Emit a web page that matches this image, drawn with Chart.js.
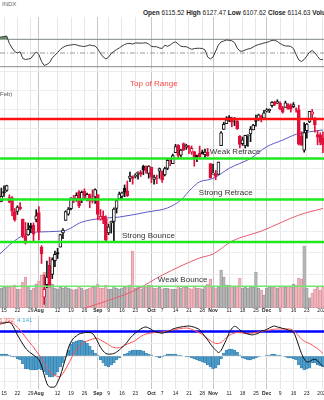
<!DOCTYPE html>
<html>
<head>
<meta charset="utf-8">
<script src="https://cdn.jsdelivr.net/npm/chart.js@4.4.1/dist/chart.umd.min.js"></script>
<style>
  body { margin: 0; width: 324px; height: 400px; overflow: hidden; position: relative; background: #fff;
         font-family: "Liberation Sans", Arial, sans-serif; }
  .pane { position: absolute; left: 0; }
  .txt { position: absolute; white-space: nowrap; }
</style>
</head>
<body>
<div class="txt" style="left:2px;top:1px;font-size:6px;color:#666">INDX</div>
<div class="txt" style="left:143px;top:9px;font-size:6.5px;color:#222"><b>Open</b> 6115.52 <b>High</b> 6127.47 <b>Low</b> 6107.62 <b>Close</b> 6114.63 <b>Volume</b> 4.3B</div>
<canvas class="pane" id="rsiChart" width="324" height="52" style="top:17px"></canvas>
<canvas class="pane" id="priceChart" width="324" height="247" style="top:70px"></canvas>
<canvas class="pane" id="macdChart" width="324" height="84" style="top:316px"></canvas>
<div class="txt" style="left:-1px;top:317px;font-size:6px"><span style="color:#ff5a5a">5.392,</span> <span style="color:#4aaee0">4.141</span></div>

<script>
// trading days: 0 = Jul 11 2024 ... 121 = Jan 2 2025
const tickDays = [2, 7, 12, 15, 22, 27, 32, 37, 41, 46, 51, 57, 61, 66, 71, 76, 80, 86, 91, 96, 100, 105, 110, 115, 121];
const tickLabels = ['15', '22', '29', 'Aug', '12', '19', '26', 'Sep', '9', '16', '23', 'Oct', '7', '14', '21', '28',
                    'Nov', '11', '18', '25', 'Dec', '9', '16', '23', '2025'];

const priorClose = 5633.91;
const open = [
  5635.21, 5590.76, 5638.16, 5644.09, 5610.07, 5608.56, 5543.37, 5544.04, 5565.30, 5505.84,
  5428.70, 5433.67, 5476.55, 5478.73, 5505.59, 5537.84, 5376.63, 5151.14, 5206.42, 5293.13,
  5252.57, 5314.70, 5351.88, 5376.98, 5442.73, 5501.13, 5530.50, 5557.23, 5602.88, 5603.09,
  5637.77, 5602.42, 5639.66, 5602.89, 5624.51, 5607.30, 5612.74, 5623.89, 5506.68, 5520.08,
  5507.33, 5442.07, 5490.51, 5496.42, 5557.48, 5603.34, 5615.21, 5655.51, 5641.68, 5702.63,
  5709.81, 5711.90, 5726.52, 5733.65, 5762.22, 5755.36, 5726.52, 5757.73, 5698.19, 5698.88,
  5737.80, 5737.80, 5719.14, 5751.80, 5778.36, 5775.09, 5829.81, 5866.74, 5816.58, 5875.62,
  5859.43, 5857.82, 5832.70, 5834.50, 5816.24, 5826.75, 5833.93, 5819.68, 5832.65, 5775.34,
  5723.22, 5725.15, 5722.43, 5864.89, 5947.21, 5976.76, 6008.86, 6003.60, 5985.75, 5989.68,
  5912.79, 5874.17, 5863.04, 5914.56, 5924.37, 5944.36, 5992.28, 6000.03, 6014.11, 6003.98,
  6040.11, 6042.97, 6069.39, 6089.03, 6081.38, 6083.01, 6057.59, 6060.15, 6074.29, 6068.17,
  6063.79, 6052.55, 6047.65, 5912.71, 5842.00, 5940.25, 5984.63, 6024.97, 6006.17, 5920.67,
  5919.74, 5903.26
];
const high = [
  5642.45, 5655.56, 5666.94, 5669.67, 5622.49, 5614.05, 5557.50, 5570.36, 5585.34, 5508.04,
  5491.59, 5488.32, 5487.74, 5489.46, 5551.51, 5566.16, 5383.89, 5250.89, 5312.34, 5330.64,
  5328.03, 5358.66, 5371.20, 5436.50, 5463.22, 5546.23, 5561.98, 5608.30, 5620.51, 5632.68,
  5643.22, 5641.82, 5651.62, 5631.18, 5627.03, 5646.95, 5651.37, 5623.89, 5552.74, 5546.30,
  5522.47, 5484.20, 5497.91, 5560.41, 5600.71, 5636.27, 5636.05, 5670.81, 5689.75, 5733.57,
  5715.14, 5725.36, 5735.32, 5741.03, 5767.37, 5763.78, 5765.14, 5757.73, 5719.14, 5718.78,
  5753.64, 5739.34, 5757.60, 5796.80, 5795.03, 5822.13, 5871.41, 5870.36, 5846.52, 5878.46,
  5872.17, 5866.92, 5863.04, 5834.85, 5817.80, 5862.82, 5842.92, 5847.19, 5850.94, 5775.34,
  5772.52, 5741.43, 5783.44, 5936.14, 5983.84, 6012.45, 6017.31, 6009.92, 6008.19, 5993.88,
  5915.06, 5908.12, 5917.50, 5920.67, 5961.50, 5972.90, 6020.75, 6025.42, 6020.16, 6044.17,
  6053.58, 6052.07, 6089.84, 6092.27, 6099.97, 6088.51, 6065.40, 6092.59, 6079.68, 6078.58,
  6085.19, 6057.68, 6070.67, 5935.52, 5982.06, 5978.25, 6040.10, 6049.75, 6006.17, 5940.79,
  5929.74, 5935.09
];
const low = [
  5571.38, 5590.44, 5614.75, 5639.02, 5584.81, 5522.81, 5497.04, 5529.04, 5550.90, 5419.98,
  5390.95, 5430.70, 5444.44, 5398.86, 5493.75, 5410.42, 5302.03, 5119.26, 5193.56, 5195.54,
  5233.85, 5287.46, 5324.37, 5376.98, 5415.68, 5501.13, 5525.17, 5550.74, 5585.50, 5591.57,
  5560.95, 5585.16, 5602.34, 5593.48, 5560.95, 5583.71, 5581.79, 5504.33, 5501.67, 5485.70,
  5402.62, 5434.49, 5441.72, 5406.96, 5535.50, 5601.65, 5604.53, 5614.05, 5615.08, 5686.42,
  5674.49, 5704.94, 5698.99, 5712.06, 5721.01, 5727.34, 5703.53, 5681.28, 5674.00, 5677.04,
  5702.83, 5683.56, 5714.56, 5745.02, 5764.76, 5775.09, 5829.81, 5804.48, 5808.34, 5840.25,
  5846.11, 5824.82, 5821.17, 5762.41, 5784.92, 5799.98, 5823.08, 5802.17, 5811.28, 5703.78,
  5723.22, 5696.51, 5722.10, 5864.89, 5947.21, 5976.76, 5986.69, 5960.08, 5965.91, 5946.99,
  5853.01, 5865.95, 5853.02, 5860.58, 5884.77, 5944.36, 5963.91, 5992.27, 5984.87, 6003.98,
  6035.33, 6033.39, 6061.06, 6069.00, 6079.98, 6048.63, 6029.89, 6060.15, 6051.25, 6035.77,
  6059.14, 6035.19, 5867.79, 5866.07, 5832.30, 5902.57, 5981.44, 6007.37, 5932.95, 5869.16,
  5868.86, 5829.53
];
const close = [
  5584.54, 5615.35, 5631.22, 5667.20, 5588.27, 5544.59, 5505.00, 5564.41, 5555.74, 5427.13,
  5399.22, 5459.10, 5463.54, 5436.44, 5522.30, 5446.68, 5346.56, 5186.33, 5240.03, 5199.50,
  5319.31, 5344.16, 5344.39, 5434.43, 5455.21, 5543.22, 5554.25, 5608.25, 5597.12, 5620.85,
  5570.64, 5634.61, 5616.84, 5625.80, 5592.18, 5591.96, 5648.40, 5528.93, 5520.07, 5503.41,
  5408.42, 5471.05, 5495.52, 5554.13, 5595.76, 5626.02, 5633.09, 5634.58, 5618.26, 5713.64,
  5702.55, 5718.57, 5732.93, 5722.26, 5745.37, 5738.17, 5762.48, 5708.75, 5709.54, 5699.94,
  5751.07, 5695.94, 5751.13, 5792.04, 5780.05, 5815.03, 5859.85, 5815.26, 5842.47, 5841.47,
  5864.67, 5853.98, 5851.20, 5797.42, 5809.86, 5808.12, 5823.52, 5832.92, 5813.67, 5705.45,
  5728.80, 5712.69, 5782.76, 5929.04, 5973.10, 5995.54, 6001.35, 5983.99, 5985.38, 5949.17,
  5870.62, 5893.62, 5916.98, 5917.11, 5948.71, 5969.34, 5987.37, 6021.63, 5998.74, 6032.38,
  6047.15, 6049.88, 6086.49, 6075.11, 6090.27, 6052.85, 6034.91, 6084.19, 6051.25, 6051.09,
  6074.08, 6050.61, 5872.16, 5867.08, 5930.85, 5974.07, 6040.04, 6037.59, 5970.84, 5906.94,
  5881.63, 5868.55
];
// billions of shares
const volume = [
  2.2, 2.0, 2.1, 2.2, 2.1, 2.2, 2.3, 1.9, 1.9, 2.6,
  3.1, 2.2, 1.8, 2.0, 2.4, 2.7, 3.3, 3.6, 2.8, 2.5,
  2.4, 2.0, 1.9, 2.1, 2.0, 2.2, 2.0, 1.9, 1.8, 1.9,
  2.1, 2.0, 1.8, 1.9, 2.0, 2.1, 2.2, 2.4, 2.0, 2.0,
  2.3, 1.9, 1.9, 2.2, 2.0, 1.9, 2.0, 2.1, 2.2, 2.3,
  5.7, 2.0, 2.1, 1.9, 2.2, 2.1, 2.3, 2.3, 2.0, 2.0,
  2.1, 1.9, 2.0, 2.0, 1.9, 1.9, 1.9, 2.2, 2.0, 2.1,
  2.1, 2.0, 1.9, 2.2, 2.0, 2.0, 1.9, 2.2, 2.4, 2.9,
  2.2, 2.0, 2.1, 3.8, 3.1, 2.3, 2.3, 2.2, 2.2, 2.2,
  3.0, 2.0, 2.1, 2.0, 2.2, 2.1, 3.6, 2.0, 1.8, 1.3,
  2.0, 2.1, 2.2, 2.1, 2.0, 2.1, 2.2, 2.1, 2.2, 2.1,
  2.4, 2.3, 3.0, 2.9, 6.2, 2.0, 1.0, 1.5, 1.9, 2.1,
  1.8, 2.1
];

// moving averages, sampled on the days listed
const sma50Days = [0, 4, 8, 13, 24, 31, 38, 45, 56, 63, 68, 72, 75, 79, 81, 86, 94, 100, 106, 111, 116, 121];
const sma50 = [5340, 5386, 5423, 5446, 5451, 5493, 5510, 5517, 5542, 5560, 5598, 5654, 5686, 5698, 5709, 5752,
               5801, 5859, 5893, 5922, 5935, 5944];
const sma200Days = [24, 32, 41, 51, 61, 75, 80, 87, 98, 112, 121];
const sma200 = [5075, 5103, 5137, 5182, 5249, 5327, 5345, 5404, 5451, 5526, 5558];

// drawn price levels
const levels = [6000, 5800, 5600, 5400, 5200];
const levelNames = ['Top of Range', 'Weak Retrace', 'Strong Retrace', 'Strong Bounce', 'Weak Bounce'];
const priceGrid = [5150, 5250, 5350, 5450, 5550, 5650, 5750, 5850, 5950, 6050, 6150, 6250];

const rsi = [
  72.6, 73.4, 74.1, 74.8, 63.9, 57.3, 52.2, 50.0, 51.8, 42.0,
  40.5, 41.2, 42.0, 47.1, 51.5, 47.8, 37.6, 31.8, 33.2, 36.1,
  42.7, 46.8, 50.7, 55.1, 58.3, 60.2, 61.2, 61.7, 62.4, 62.0,
  60.5, 59.9, 59.4, 60.5, 61.7, 60.9, 60.2, 55.8, 49.3, 44.2,
  41.2, 43.9, 49.3, 52.2, 55.1, 57.3, 60.2, 62.4, 63.9, 63.9,
  63.1, 64.6, 64.6, 64.3, 64.6, 64.9, 63.1, 59.5, 59.2, 59.1,
  57.3, 56.6, 61.4, 59.8, 61.7, 64.6, 66.4, 63.1, 59.9, 59.2,
  59.2, 57.3, 55.4, 56.4, 56.9, 56.9, 56.6, 54.4, 44.2, 41.2,
  44.2, 52.9, 61.7, 66.1, 67.5, 69.0, 68.5, 67.8, 65.3, 57.3,
  52.9, 52.6, 54.4, 55.8, 56.6, 58.8, 60.9, 62.4, 63.4, 64.6,
  65.3, 66.8, 68.5, 68.5, 66.8, 63.9, 61.7, 60.2, 60.2, 59.5,
  56.6, 47.8, 39.8, 37.6, 40.5, 45.6, 51.5, 53.6, 50.4, 44.9,
  40.2, 40.5
];
const rsiLevels = [70, 50, 30];

const macd = [
  65.4, 66, 66, 67, 68, 63, 53, 42, 33, 24,
  16, 10, 6, 2, -2, -7, -20, -38, -55, -62,
  -62.4, -61.6, -52, -40, -22, -4, 16, 28, 36, 40,
  44, 45.4, 46.8, 47.4, 47, 45, 38, 28, 17.4, 10,
  5, 3.6, 4, 5, 8, 12, 17, 22, 28, 35.4,
  41, 46, 50, 54, 57, 58, 56, 53, 49.4, 47.4,
  46.4, 45.6, 47, 48.4, 51, 54, 55.6, 57, 58, 59,
  59.6, 60, 59, 57.6, 55.4, 52.4, 46, 39, 32, 24.4,
  17, 12, 7, 11, 22, 33, 46, 55, 59.4, 57,
  52, 49, 45.4, 44, 42.6, 42.4, 44, 45.4, 50, 51,
  53, 56, 58.6, 60, 58, 57, 55, 54, 52, 50.6,
  48, 36, 20, 5, -6, -12, -11, -7.6, -6.6, -9.6,
  -15.6, -21
];
const signal = [
  62, 64, 66, 67, 67, 66, 63, 57, 52, 45,
  38, 31, 24, 18, 10, 3, -4, -15, -23, -30,
  -36, -39, -41, -41, -35, -26, -16, -6, 5, 12,
  19, 24, 28, 30, 32, 34, 35, 35, 32, 29,
  26, 23, 19, 17, 16, 17, 18, 21, 24, 26,
  28, 31, 35, 39, 42, 44, 45, 46, 46.6, 47,
  47.6, 48, 49, 50, 51, 52, 53, 54, 55, 55.6,
  56, 55.4, 53.4, 51, 49, 46, 43, 39, 35, 31,
  27, 25, 25, 27, 32, 37, 41, 44, 46, 47,
  46.6, 46, 45, 45, 45.4, 46, 47, 48, 49, 50,
  51, 52, 53, 53.6, 54, 54, 54, 54, 54, 53.6,
  51, 46, 40, 34, 30, 27, 25, 22, 18, 15,
  10, 5
];
const histogram = [
  4, 4, 4, 4, 2, -2, -2, -6, -8, -16,
  -26, -26, -28, -28, -28, -26, -28, -32, -38, -42,
  -42, -38, -32, -22, -14, -2, 12, 24, 28, 30,
  32, 32, 30, 26, 20, 12, 6, 2, -8, -14,
  -20, -22, -18, -14, -8, -4, 0, 4, 6, 10,
  12, 12, 12, 12, 10, 6, 4, 2, 0, -2,
  -4, -2, 2, 4, 4, 4, 4, 2, 2, 0,
  -2, -2, -4, -6, -8, -10, -12, -14, -18, -22,
  -26, -24, -18, -6, 6, 12, 14, 14, 12, 8,
  2, -4, -6, -8, -8, -6, -4, -2, 0, 0,
  2, 2, 4, 4, 2, 2, 0, -2, -4, -4,
  -6, -8, -18, -24, -28, -26, -24, -14, -14, -18,
  -20, -22
];
const macdMark = 49;

const FONT = '"Liberation Sans", Arial, sans-serif';
const X_MIN = 0.5, X_MAX = 121.4;
const RED = '#e0103a', BLACK = '#111';

const days = close.map((_, i) => i);
const upDay = close.map((c, i) => c >= (i ? close[i - 1] : priorClose));
const candleColor = upDay.map(u => (u ? BLACK : RED));
const monthTick = i => isNaN(Number(tickLabels[i]));

function xAxis(labelHeight, pad) {
  return {
    type: 'linear', min: X_MIN, max: X_MAX, offset: false,
    afterBuildTicks: s => { s.ticks = tickDays.map(v => ({ value: v })); },
    afterFit: s => { s.height = labelHeight; s.paddingLeft = 0; s.paddingRight = 0; },
    border: { display: false },
    grid: { offset: false, drawTicks: false, color: c => (monthTick(c.index) ? '#c6c6c6' : '#e6e6e6') },
    ticks: {
      display: labelHeight > 0, padding: pad, autoSkip: false, maxRotation: 0, color: '#222',
      font: c => ({ family: FONT, size: 5, weight: monthTick(c.index) ? 'bold' : 'normal' }),
      callback: (v, i) => tickLabels[i]
    }
  };
}
function hiddenY(extra) {
  return Object.assign({
    border: { display: false },
    ticks: { display: false },
    afterFit: s => { s.width = 0; }
  }, extra);
}
const flatLine = (value, color, width, dash) => ({
  type: 'line', data: [{ x: X_MIN, y: value }, { x: X_MAX, y: value }],
  borderColor: color, borderWidth: width, borderDash: dash || [], pointRadius: 0
});
const common = {
  responsive: false, animation: false, events: [],
  layout: { padding: 0 },
  plugins: { legend: { display: false }, tooltip: { enabled: false } }
};

// RSI panel
new Chart(document.getElementById('rsiChart'), {
  type: 'line',
  data: {
    datasets: [
      {
        data: days.map(i => ({ x: i, y: rsi[i] })),
        borderColor: '#3a3a3a', borderWidth: 1, pointRadius: 0,
        fill: { target: { value: 70 }, above: 'rgba(74,130,74,0.85)', below: 'rgba(0,0,0,0)' },
        order: 0
      },
      ...rsiLevels.map(v => Object.assign(flatLine(v, v === 50 ? '#9a9a9a' : '#8c8c8c', 1, v === 50 ? [5, 2, 1, 2] : []), { order: 1 }))
    ]
  },
  options: Object.assign({}, common, {
    scales: {
      x: xAxis(0, 0),
      y: hiddenY({ min: 26.6, max: 102.6, grid: { display: false } })
    }
  })
});

// price panel: volume, moving averages, candles, levels
const levelNotes = {
  id: 'levelNotes',
  afterDatasetsDraw(chart) {
    const { ctx, scales: { x, y }, chartArea } = chart;
    const spots = [
      { day: 57.9, dy: -35, align: 'center', color: '#ff4545' },
      { day: 78.8, dy: -6.6, align: 'left', color: '#333' },
      { day: 74.7, dy: -6.3, align: 'left', color: '#333' },
      { day: 46.0, dy: -6.3, align: 'left', color: '#333' },
      { day: 59.4, dy: -6.0, align: 'left', color: '#333' }
    ];
    ctx.save();
    ctx.textBaseline = 'middle';
    ctx.font = '8px ' + FONT;
    levelNames.forEach((name, i) => {
      const s = spots[i];
      ctx.fillStyle = s.color;
      ctx.textAlign = s.align;
      ctx.fillText(name, x.getPixelForValue(s.day), y.getPixelForValue(levels[i]) + s.dy);
    });
    ctx.font = '6px ' + FONT;
    ctx.fillStyle = '#555';
    ctx.textAlign = 'left';
    ctx.fillText('Feb)', 0, chartArea.top + 24);
    ctx.restore();
  }
};

new Chart(document.getElementById('priceChart'), {
  type: 'bar',
  data: {
    datasets: [
      {
        yAxisID: 'yv', order: 10, grouped: false,
        data: days.map(i => ({ x: i, y: volume[i] })),
        backgroundColor: upDay.map(u => (u ? 'rgba(178,178,178,0.9)' : 'rgba(240,178,186,0.9)')),
        borderColor: upDay.map(u => (u ? '#8e8e8e' : '#d98a95')),
        borderWidth: 0.6, borderSkipped: false, barPercentage: 1, categoryPercentage: 1
      },
      {
        type: 'line', order: 4, data: sma200Days.map((d, k) => ({ x: d, y: sma200[k] })),
        borderColor: '#ea5a70', borderWidth: 1, pointRadius: 0, cubicInterpolationMode: 'monotone'
      },
      {
        type: 'line', order: 4, data: sma50Days.map((d, k) => ({ x: d, y: sma50[k] })),
        borderColor: '#5b5bc8', borderWidth: 1, pointRadius: 0, cubicInterpolationMode: 'monotone'
      },
      {
        order: 3, grouped: false, barThickness: 1,
        data: days.map(i => ({ x: i, y: [low[i], high[i]] })),
        backgroundColor: candleColor
      },
      {
        order: 2, grouped: false, barThickness: 3,
        data: days.map(i => ({ x: i, y: [open[i], close[i]] })),
        backgroundColor: days.map(i => (close[i] > open[i] ? '#fff' : candleColor[i])),
        borderColor: candleColor, borderWidth: 1, borderSkipped: false
      },
      ...levels.map((v, i) => Object.assign(
        flatLine(v, i === 0 ? '#ff1010' : (i === 4 ? '#6ee86e' : '#1ee81e'), i === 4 ? 1.5 : 2.5), { order: 0 }))
    ]
  },
  options: Object.assign({}, common, {
    scales: {
      x: xAxis(9, 0),
      y: hiddenY({
        type: 'logarithmic', min: 5103.6, max: 6257.2, bounds: 'data',
        afterBuildTicks: s => { s.ticks = priceGrid.map(v => ({ value: v })); },
        grid: { color: '#ececec', drawTicks: false }
      }),
      yv: { type: 'linear', display: false, min: 0, max: 23.8 }
    }
  }),
  plugins: [levelNotes]
});

// MACD panel
new Chart(document.getElementById('macdChart'), {
  type: 'bar',
  data: {
    datasets: [
      {
        order: 5, grouped: false,
        data: days.map(i => ({ x: i, y: histogram[i] })),
        backgroundColor: '#4d9dcc', borderColor: '#2c6f98', borderWidth: 0.5,
        borderSkipped: false, barPercentage: 1, categoryPercentage: 1
      },
      Object.assign(flatLine(macdMark, '#0000ff', 2.5), { order: 3 }),
      {
        type: 'line', order: 2, data: days.map(i => ({ x: i, y: signal[i] })),
        borderColor: '#ff5252', borderWidth: 1, pointRadius: 0, tension: 0.3
      },
      {
        type: 'line', order: 1, data: days.map(i => ({ x: i, y: macd[i] })),
        borderColor: '#111', borderWidth: 1, pointRadius: 0, tension: 0.3
      }
    ]
  },
  options: Object.assign({}, common, {
    scales: {
      x: xAxis(11, 2),
      y: hiddenY({
        min: -66, max: 80,
        afterBuildTicks: s => { s.ticks = [-50, -25, 0, 25, 50, 75].map(v => ({ value: v })); },
        grid: { color: '#ececec', drawTicks: false }
      })
    }
  })
});
</script>
</body>
</html>
